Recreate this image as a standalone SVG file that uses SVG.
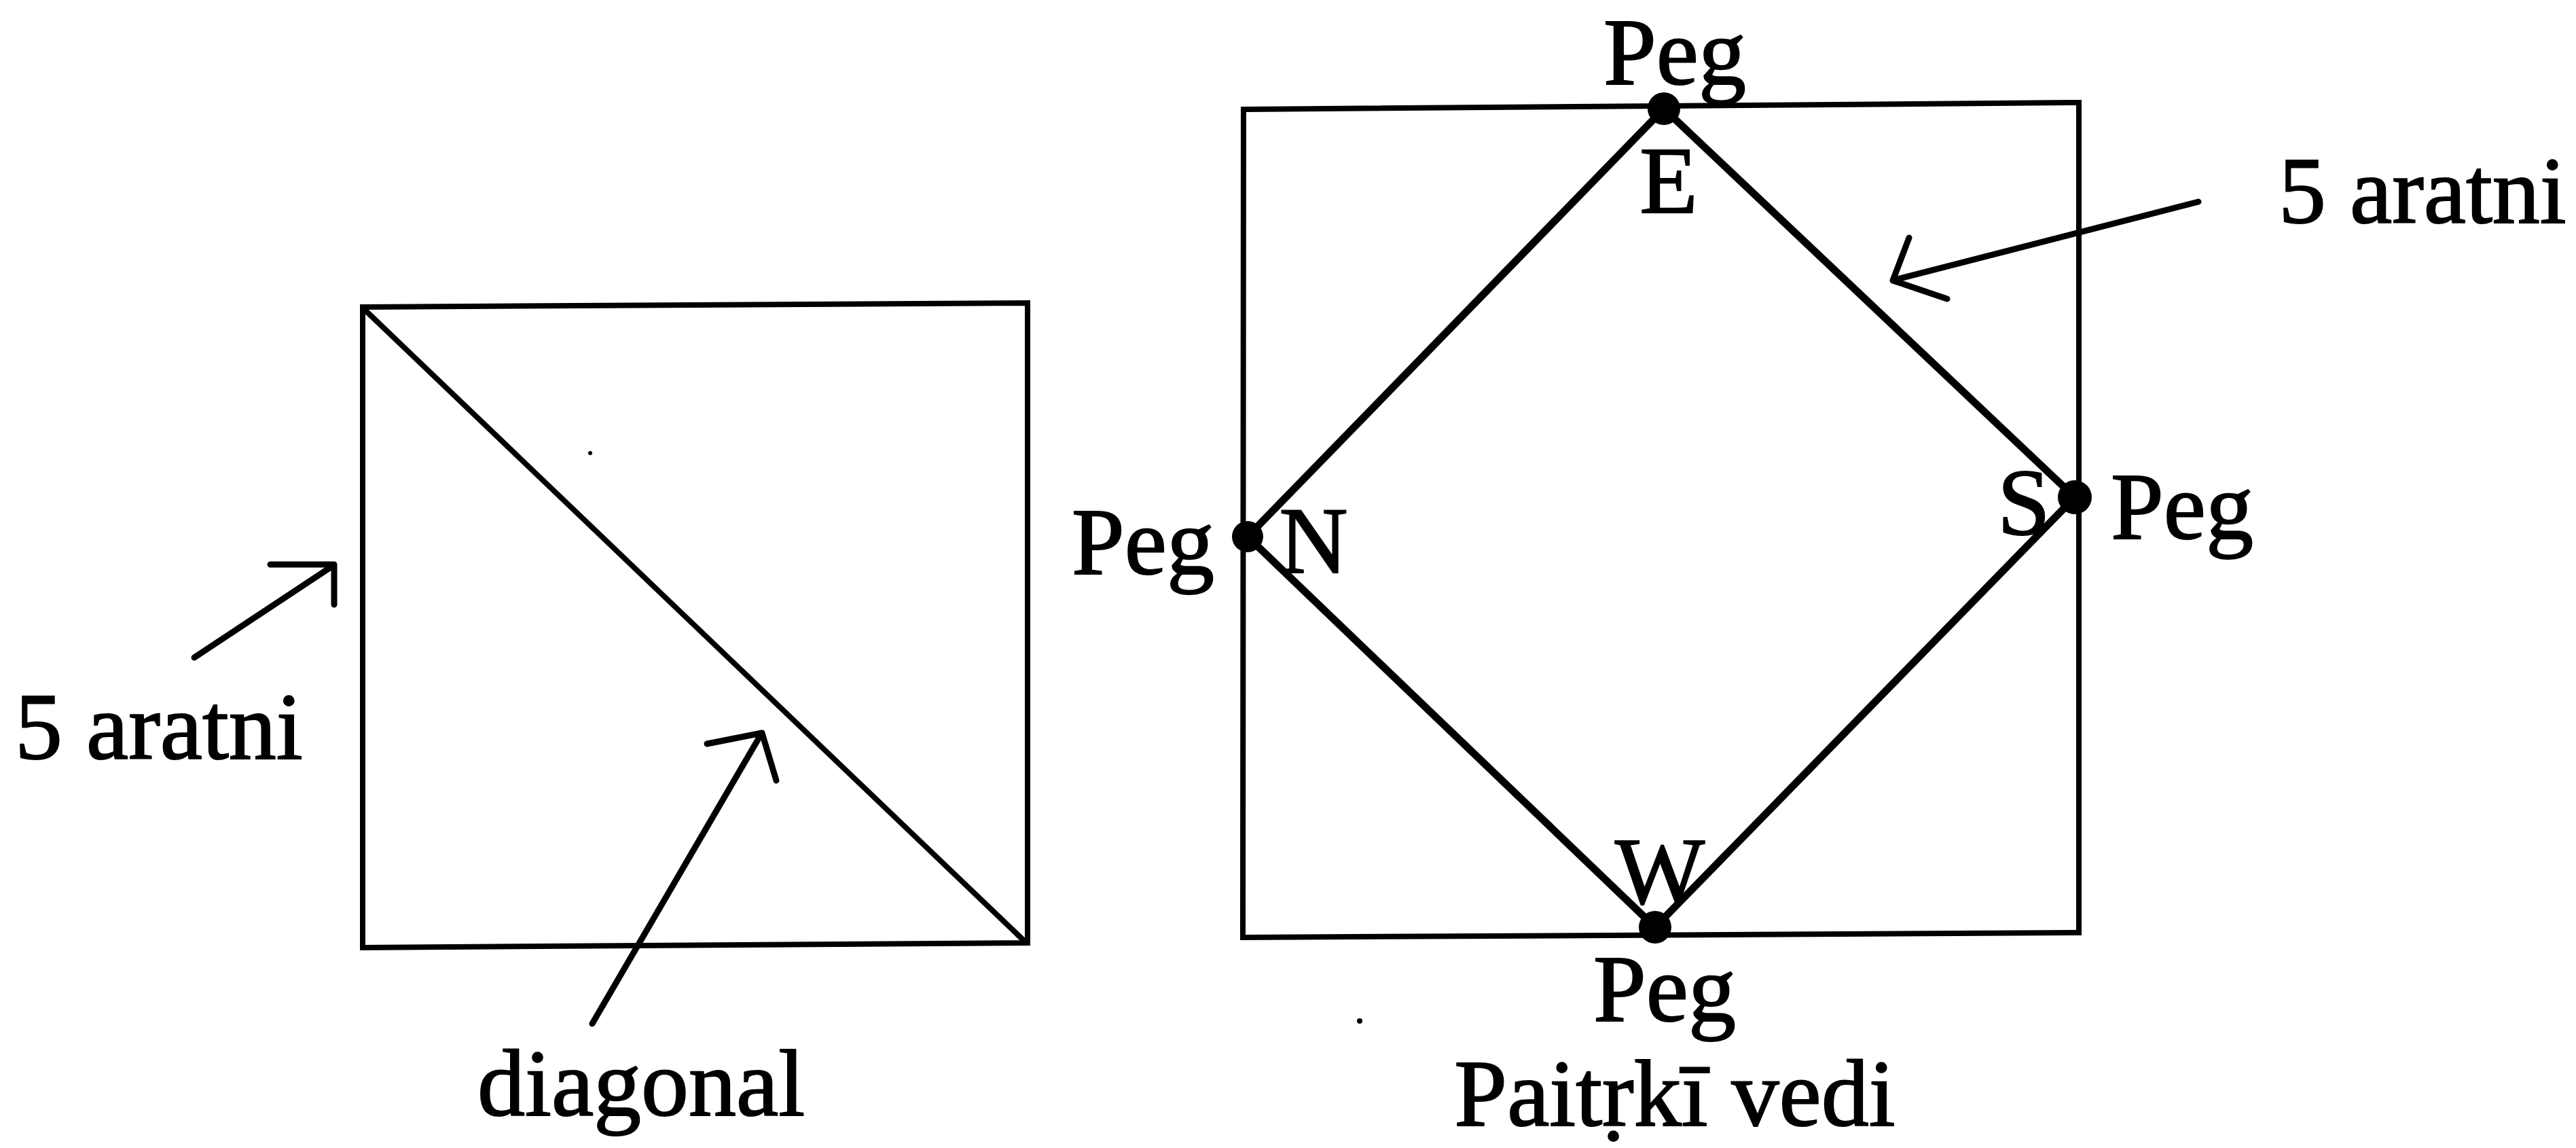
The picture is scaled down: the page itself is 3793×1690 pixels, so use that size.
<svg xmlns="http://www.w3.org/2000/svg" width="3793" height="1690" viewBox="0 0 3793 1690">
<style>
.ln{fill:none;stroke:#000;stroke-width:9;stroke-linecap:round;stroke-linejoin:round}
.thin{fill:none;stroke:#000;stroke-width:8;stroke-linejoin:miter}
.dg{fill:none;stroke:#000;stroke-width:11;stroke-linecap:round}
.dot{fill:#000}
.t{font-family:"Liberation Serif","Times New Roman",serif;font-size:140px;fill:#000;stroke:#000;stroke-width:2}
.m{text-anchor:middle}
</style>
<rect width="3793" height="1690" fill="#fff"/>
<g id="left-square">
<polygon class="thin" points="534,452 1513,446 1513,1388 534,1395"/>
<line class="thin" x1="536" y1="455" x2="1508" y2="1385"/>
<circle class="dot" cx="869" cy="667" r="3"/>
</g>
<g id="right-rect">
<polygon class="thin" points="1831,161 3061,151 3061,1373 1830,1380"/>
</g>
<g id="diamond">
<polygon class="dg" points="2450,160 3055,732 2437,1365 1837,790" stroke-linejoin="round"/>
</g>
<g id="peg-E"><circle class="dot" cx="2450" cy="160" r="24"/><text class="t m" x="2466" y="124" font-size="132">Peg</text><text class="t m" x="2457" y="313">E</text></g>
<g id="peg-N"><circle class="dot" cx="1837" cy="790" r="23"/><text class="t m" x="1683" y="845">Peg</text><text class="t m" x="1934" y="843">N</text></g>
<g id="peg-S"><circle class="dot" cx="3055" cy="732" r="25"/><text class="t" x="3108" y="793">Peg</text><text class="t m" x="2980" y="787">S</text></g>
<g id="peg-W"><circle class="dot" cx="2437" cy="1365" r="24"/><text class="t m" x="2444" y="1330">W</text><text class="t m" x="2451" y="1503">Peg</text></g>
<g id="label-left-aratni"><text class="t" x="22" y="1117">5 aratni</text></g>
<g id="label-diagonal"><text class="t" x="703" y="1642">diagonal</text></g>
<g id="label-right-aratni"><text class="t" x="3355" y="328">5 aratni</text></g>
<g id="label-vedi"><text class="t m" x="2466" y="1657">Paitṛkī vedi</text><circle class="dot" cx="2002" cy="1503" r="4"/></g>
<g id="connectors">
<polyline class="ln" points="286,968 490,833"/>
<polyline class="ln" points="398,831 492,831 492,890"/>
<polyline class="ln" points="872,1507 1120,1082"/>
<polyline class="ln" points="1041,1095 1122,1079 1143,1149"/>
<polyline class="ln" points="3237,297 2790,412"/>
<polyline class="ln" points="2811,350 2787,413 2867,440"/>
</g>
</svg>
